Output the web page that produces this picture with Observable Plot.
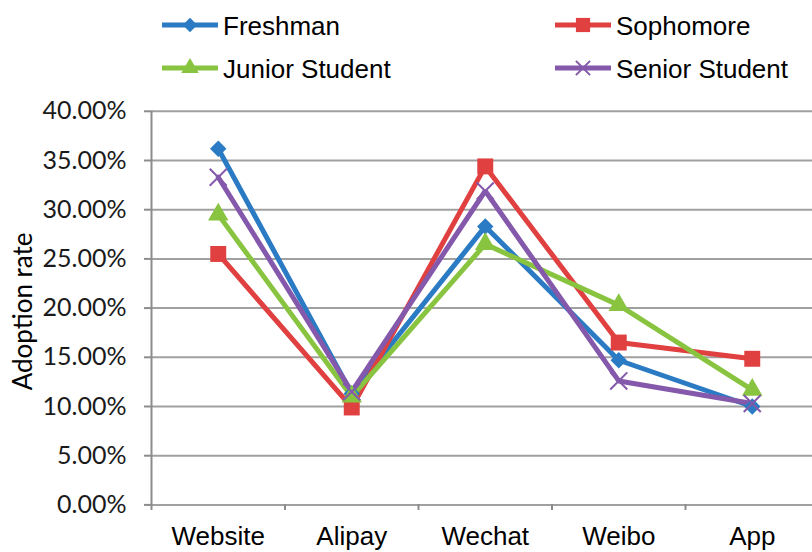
<!DOCTYPE html>
<html><head><meta charset="utf-8">
<script src="https://cdn.jsdelivr.net/npm/d3@7"></script>
<script src="https://cdn.jsdelivr.net/npm/@observablehq/plot@0.6"></script>
<style>
html,body{margin:0;padding:0;background:#fff;}
#wrap{position:relative;width:812px;height:552px;overflow:hidden;background:#fff;}
#legend{position:absolute;left:0;top:0;width:812px;height:95px;}
#chart{position:absolute;left:0;top:95px;}
</style></head><body>
<div id="wrap"><div id="legend"></div><div id="chart"></div></div>
<script>
const categories = ["Website", "Alipay", "Wechat", "Weibo", "App"];
const seriesNames = ["Freshman", "Sophomore", "Junior Student", "Senior Student"];
const freshman  = [36.2, 11.3, 28.3, 14.7, 10.0];
const sophomore = [25.5,  9.9, 34.4, 16.5, 14.85];
const junior    = [29.5, 11.0, 26.5, 20.3, 11.7];
const senior    = [33.3, 11.5, 31.9, 12.6, 10.3];
const yTicks = [0, 5, 10, 15, 20, 25, 30, 35, 40];
const yTitle = "Adoption rate";

const colors = ["#2a7bc3", "#e0403f", "#88c440", "#8458ab"];
const symbols = ["diamond2", "square", "triangle", "times"];
const markerR = [7.4, 9, 7.6, 7.8];
const seriesValues = [freshman, sophomore, junior, senior];

const rows = [];
seriesNames.forEach((s, k) => seriesValues[k].forEach((v, i) => rows.push({series: s, i: i + 0.5, value: v})));

const dotMarks = seriesNames.map((s, k) => {
  const data = rows.filter(d => d.series === s);
  return symbols[k] === "times"
    ? Plot.dot(data, {x: "i", y: "value", symbol: "series", stroke: "series", strokeWidth: 2, r: markerR[k]})
    : Plot.dot(data, {x: "i", y: "value", symbol: "series", fill: "series", r: markerR[k]});
});

const chart = Plot.plot({
  width: 812, height: 457,
  marginTop: 16, marginBottom: 48, marginLeft: 151, marginRight: 0,
  style: {background: "#fff", overflow: "visible"},
  x: {type: "linear", domain: [0, categories.length], range: [151, 818.5]},
  y: {domain: [0, 40], range: [409.4, 15.8]},
  color: {domain: seriesNames, range: colors},
  symbol: {domain: seriesNames, range: symbols},
  marks: [
    Plot.ruleY(yTicks, {stroke: "#a0a0a0", strokeWidth: 2}),
    Plot.ruleX([0], {y1: 0, y2: 40, stroke: "#8c8c8c", strokeWidth: 2}),
    Plot.axisY({ticks: yTicks, tickFormat: d => d.toFixed(2) + "%", tickSize: 7, tickPadding: 18,
      stroke: "#8c8c8c", strokeWidth: 2, fontSize: 25, fontFamily: "Lato", fill: "#1a1a1a", label: null}),
    Plot.axisX({ticks: d3.range(0, categories.length), tickFormat: () => "", tickSize: 6,
      stroke: "#8c8c8c", strokeWidth: 2, label: null}),
    Plot.axisX({ticks: categories.map((c, i) => i + 0.5), tickFormat: d => categories[Math.round(d - 0.5)],
      tickSize: 0, tickPadding: 22, fontSize: 26, fontFamily: "Liberation Sans, Arial", fill: "#000", label: null}),
    Plot.text([yTitle], {frameAnchor: "left", textAnchor: "middle", rotate: -90, dx: -128, dy: 3.4,
      fontSize: 26, fontFamily: "Lato", fill: "#000"}),
    Plot.line(rows, {x: "i", y: "value", z: "series", stroke: "series", strokeWidth: 5, strokeLinejoin: "miter"}),
    ...dotMarks
  ]
});
document.getElementById("chart").appendChild(chart);

// Legend
const legendPos = [
  {x: 162, y: 25}, {x: 555, y: 25}, {x: 162, y: 68}, {x: 555, y: 68}
];
const d3sym = {diamond2: d3.symbolDiamond2, square: d3.symbolSquare, triangle: d3.symbolTriangle, times: d3.symbolTimes};
const lsvg = d3.select("#legend").append("svg").attr("width", 812).attr("height", 95);
seriesNames.forEach((s, k) => {
  const p = legendPos[k];
  const g = lsvg.append("g");
  g.append("line").attr("x1", p.x).attr("x2", p.x + 56).attr("y1", p.y).attr("y2", p.y)
    .attr("stroke", colors[k]).attr("stroke-width", 5);
  const r = symbols[k] === "square" ? 8 : 6.5;
  const path = d3.symbol(d3sym[symbols[k]], r * r * Math.PI)();
  const sp = g.append("path").attr("d", path).attr("transform", `translate(${p.x + 28},${p.y})`);
  if (symbols[k] === "times") sp.attr("fill", "none").attr("stroke", colors[k]).attr("stroke-width", 2);
  else sp.attr("fill", colors[k]);
  g.append("text").attr("x", p.x + 61).attr("y", p.y + 10)
    .attr("font-family", "Liberation Sans, Arial").attr("font-size", 26).attr("fill", "#000").text(s);
});
</script>
</body></html>
